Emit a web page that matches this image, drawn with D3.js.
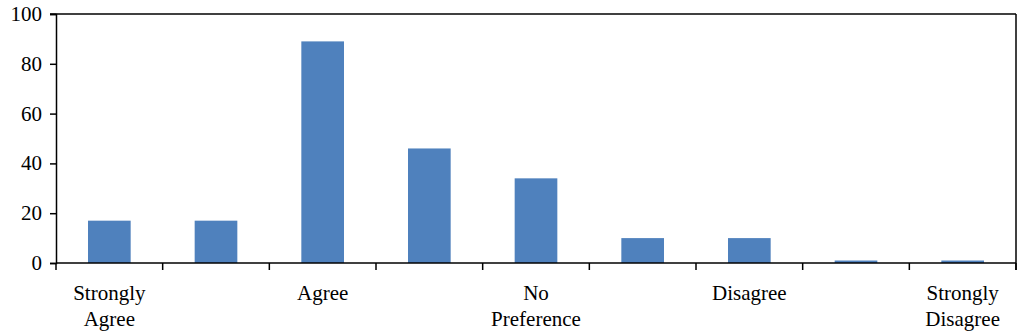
<!DOCTYPE html>
<html>
<head>
<meta charset="utf-8">
<script src="https://cdn.jsdelivr.net/npm/d3@7"></script>
</head>
<body style="margin:0">
<div id="chart"></div>
<script>
// one bar per response level, labels only on every other slot
const categories = ["c1","c2","c3","c4","c5","c6","c7","c8","c9"];
const values = [17, 17, 89, 46, 34, 10, 10, 1, 1];
const xLabels = [["Strongly","Agree"], [], ["Agree"], [], ["No","Preference"], [], ["Disagree"], [], ["Strongly","Disagree"]];
const yTicks = [0, 20, 40, 60, 80, 100];

const FONT = "Times New Roman, Liberation Serif, serif";
const W = 1024, H = 336;
const m = { left:56, right:8, top:14, bottom:73 };

const svg = d3.select("#chart").append("svg")
  .attr("width", W).attr("height", H)
  .attr("font-family", FONT);

const x = d3.scaleBand().domain(categories)
  .range([m.left, W - m.right]).paddingInner(0).paddingOuter(0);
const y = d3.scaleLinear().domain([0, 100]).range([H - m.bottom, m.top]);

const bw = x.bandwidth() * 0.4;

// bars
svg.append("g").selectAll("rect").data(values).enter()
  .append("rect")
  .attr("x", (d,i) => x(categories[i]) + (x.bandwidth() - bw) / 2)
  .attr("y", d => y(d))
  .attr("width", bw)
  .attr("height", d => y(0) - y(d))
  .attr("fill", "#4F81BD");

// frame: top and right edges
svg.append("line")
  .attr("x1", m.left - 6).attr("x2", W - m.right)
  .attr("y1", y(100)).attr("y2", y(100))
  .attr("stroke", "#000").attr("stroke-width", 1.5);
svg.append("line")
  .attr("x1", W - m.right).attr("x2", W - m.right)
  .attr("y1", y(100)).attr("y2", y(0) + 7)
  .attr("stroke", "#000").attr("stroke-width", 1.5);

// y axis (lines from d3, labels drawn as plain text)
const ya = svg.append("g").attr("transform", "translate(" + m.left + ",0)")
  .call(d3.axisLeft(y).tickValues(yTicks).tickSize(6).tickFormat(""));
ya.attr("font-family", null);
ya.select(".domain").attr("stroke-width", 1.5);
ya.selectAll(".tick line").attr("stroke-width", 1.5);
ya.selectAll(".tick text").remove();
svg.append("g").selectAll("text").data(yTicks).enter().append("text")
  .attr("font-family", FONT).attr("font-size", "21px")
  .attr("text-anchor", "end")
  .attr("x", m.left - 14)
  .attr("y", d => y(d) + 7)
  .text(d => d);

// x axis: ticks on category boundaries
const bounds = categories.map(c => x(c)).concat([x.range()[1]]);
const xa = svg.append("g");
xa.append("line")
  .attr("x1", m.left).attr("x2", W - m.right)
  .attr("y1", y(0)).attr("y2", y(0))
  .attr("stroke", "#000").attr("stroke-width", 1.5);
xa.selectAll("line.tk").data(bounds).enter().append("line").attr("class","tk")
  .attr("x1", d => d).attr("x2", d => d)
  .attr("y1", y(0)).attr("y2", y(0) + 7)
  .attr("stroke", "#000").attr("stroke-width", 1.5);

// category labels, one text element per line
categories.forEach((c, i) => {
  xLabels[i].forEach((s, j) => {
    svg.append("text")
      .attr("font-family", FONT).attr("font-size", "21px")
      .attr("text-anchor", "middle")
      .attr("x", x(c) + x.bandwidth() / 2)
      .attr("y", y(0) + 37 + j * 26)
      .text(s);
  });
});
</script>
</body>
</html>
